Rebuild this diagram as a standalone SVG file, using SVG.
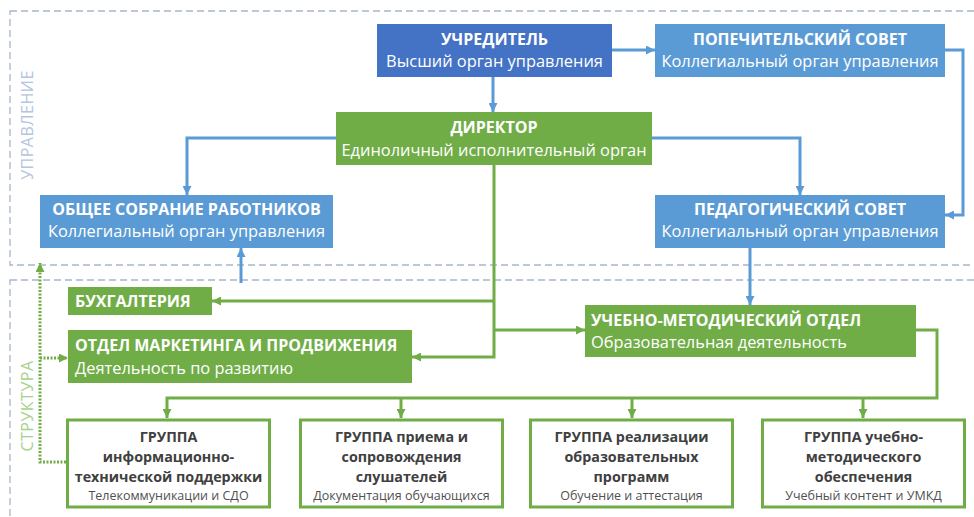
<svg xmlns="http://www.w3.org/2000/svg" width="974" height="517" viewBox="0 0 974 517">
<style>
.zone{fill:none;stroke:#a8b6ca;stroke-width:1.3;stroke-dasharray:7 4}
.zl{font-family:"Open Sans","Liberation Sans",sans-serif;font-size:16px;letter-spacing:0.5px}
.t{font-family:"Open Sans","Liberation Sans",sans-serif;font-weight:bold;font-size:16px;fill:#fff}
.s{font-family:"Open Sans","Liberation Sans",sans-serif;font-size:16.4px;fill:#fff}
.tl{font-family:"Open Sans","Liberation Sans",sans-serif;font-weight:bold;font-size:16px;fill:#fff}
.sl{font-family:"Open Sans","Liberation Sans",sans-serif;font-size:16.4px;fill:#fff}
.gt{font-family:"Open Sans","Liberation Sans",sans-serif;font-weight:bold;font-size:14.3px;fill:#404040}
.gs{font-family:"Open Sans","Liberation Sans",sans-serif;font-size:12.5px;fill:#505050}
.db{fill:#4472c4}.lb{fill:#5b9bd5}.gr{fill:#70ad47}
.gb{fill:#fff;stroke:#70ad47;stroke-width:3}
.cb{fill:none;stroke:#5b9bd5;stroke-width:3;marker-end:url(#ab)}
.cg{fill:none;stroke:#70ad47;stroke-width:3;marker-end:url(#ag)}
.cd{fill:none;stroke:#70ad47;stroke-width:3;stroke-dasharray:2 1.5;marker-end:url(#ag)}
</style>
<defs>
<marker id="ab" viewBox="0 0 10 10" refX="10" refY="5" markerWidth="9" markerHeight="9" markerUnits="userSpaceOnUse" orient="auto"><path d="M0,0 L10,5 L0,10 z" fill="#5b9bd5"/></marker>
<marker id="ag" viewBox="0 0 10 10" refX="10" refY="5" markerWidth="9" markerHeight="9" markerUnits="userSpaceOnUse" orient="auto"><path d="M0,0 L10,5 L0,10 z" fill="#70ad47"/></marker>
</defs>
<rect width="974" height="517" fill="#fff"/>
<g id="zones">
<rect class="zone" x="10" y="11" width="980" height="254"/>
<rect class="zone" x="10" y="280" width="980" height="260"/>
<text class="zl" fill="#b4c5e0" transform="translate(33,125) rotate(-90)" text-anchor="middle">УПРАВЛЕНИЕ</text>
<text class="zl" fill="#a9d18e" transform="translate(33,406) rotate(-90)" text-anchor="middle">СТРУКТУРА</text>
</g>
<g id="connectors">
<path class="cb" d="M493,77 V112"/>
<path class="cb" d="M612,50 H655"/>
<path class="cb" d="M945,50 H963 V215 H945"/>
<path class="cb" d="M336,138 H187 V195"/>
<path class="cb" d="M652,138 H800 V195"/>
<path class="cb" d="M750,248 V305"/>
<path class="cb" d="M241,283 V248"/>
<path class="cg" d="M494,165 V357 H412"/>
<path class="cg" d="M494,301 H212"/>
<path class="cg" d="M494,330 H585"/>
<path class="cg" d="M916,330 H937 V398 H167 V418"/>
<path class="cg" d="M401,398 V418"/>
<path class="cg" d="M632,398 V418"/>
<path class="cg" d="M863,398 V418"/>
<path class="cd" d="M66,462 H40 V263"/>
<path class="cd" d="M40,358 H68"/>
</g>
<g id="uchreditel">
<rect class="db" x="377" y="24" width="235" height="53"/>
<text class="t" x="494.5" y="45" text-anchor="middle">УЧРЕДИТЕЛЬ</text>
<text class="s" x="494.5" y="67" text-anchor="middle">Высший орган управления</text>
</g>
<g id="popechitelsky">
<rect class="lb" x="655" y="24" width="290" height="53"/>
<text class="t" x="800" y="45" text-anchor="middle">ПОПЕЧИТЕЛЬСКИЙ СОВЕТ</text>
<text class="s" x="800" y="67" text-anchor="middle">Коллегиальный орган управления</text>
</g>
<g id="direktor">
<rect class="gr" x="336" y="112" width="316" height="53"/>
<text class="t" x="494" y="133" text-anchor="middle">ДИРЕКТОР</text>
<text class="s" x="494" y="156" text-anchor="middle">Единоличный исполнительный орган</text>
</g>
<g id="obshee">
<rect class="lb" x="40" y="195" width="293" height="53"/>
<text class="t" x="186.5" y="215" text-anchor="middle">ОБЩЕЕ СОБРАНИЕ РАБОТНИКОВ</text>
<text class="s" x="186.5" y="237" text-anchor="middle">Коллегиальный орган управления</text>
</g>
<g id="pedsovet">
<rect class="lb" x="655" y="195" width="290" height="53"/>
<text class="t" x="800" y="215" text-anchor="middle">ПЕДАГОГИЧЕСКИЙ СОВЕТ</text>
<text class="s" x="800" y="237" text-anchor="middle">Коллегиальный орган управления</text>
</g>
<g id="buh">
<rect class="gr" x="68" y="287" width="144" height="28"/>
<text class="t" x="75" y="306.5">БУХГАЛТЕРИЯ</text>
</g>
<g id="marketing">
<rect class="gr" x="68" y="330" width="344" height="53"/>
<text class="tl" x="75" y="351">ОТДЕЛ МАРКЕТИНГА И ПРОДВИЖЕНИЯ</text>
<text class="sl" x="75" y="374">Деятельность по развитию</text>
</g>
<g id="umo">
<rect class="gr" x="585" y="305" width="331" height="52"/>
<text class="tl" x="591" y="326">УЧЕБНО-МЕТОДИЧЕСКИЙ ОТДЕЛ</text>
<text class="sl" x="591" y="348">Образовательная деятельность</text>
</g>
<g id="g1">
<rect class="gb" x="67.5" y="420" width="202" height="87"/>
<text class="gt" x="168.5" y="442" text-anchor="middle">ГРУППА</text>
<text class="gt" x="168.5" y="462" text-anchor="middle">информационно-</text>
<text class="gt" x="168.5" y="482" text-anchor="middle">технической поддержки</text>
<text class="gs" x="168.5" y="500" text-anchor="middle">Телекоммуникации и СДО</text>
</g>
<g id="g2">
<rect class="gb" x="300.5" y="420" width="202" height="87"/>
<text class="gt" x="401.5" y="442" text-anchor="middle">ГРУППА приема и</text>
<text class="gt" x="401.5" y="462" text-anchor="middle">сопровождения</text>
<text class="gt" x="401.5" y="482" text-anchor="middle">слушателей</text>
<text class="gs" x="401.5" y="500" text-anchor="middle">Документация обучающихся</text>
</g>
<g id="g3">
<rect class="gb" x="530.5" y="420" width="202" height="87"/>
<text class="gt" x="631.5" y="442" text-anchor="middle">ГРУППА реализации</text>
<text class="gt" x="631.5" y="462" text-anchor="middle">образовательных</text>
<text class="gt" x="631.5" y="482" text-anchor="middle">программ</text>
<text class="gs" x="631.5" y="500" text-anchor="middle">Обучение и аттестация</text>
</g>
<g id="g4">
<rect class="gb" x="762.5" y="420" width="202" height="87"/>
<text class="gt" x="863.5" y="442" text-anchor="middle">ГРУППА учебно-</text>
<text class="gt" x="863.5" y="462" text-anchor="middle">методического</text>
<text class="gt" x="863.5" y="482" text-anchor="middle">обеспечения</text>
<text class="gs" x="863.5" y="500" text-anchor="middle">Учебный контент и УМКД</text>
</g>
</svg>
